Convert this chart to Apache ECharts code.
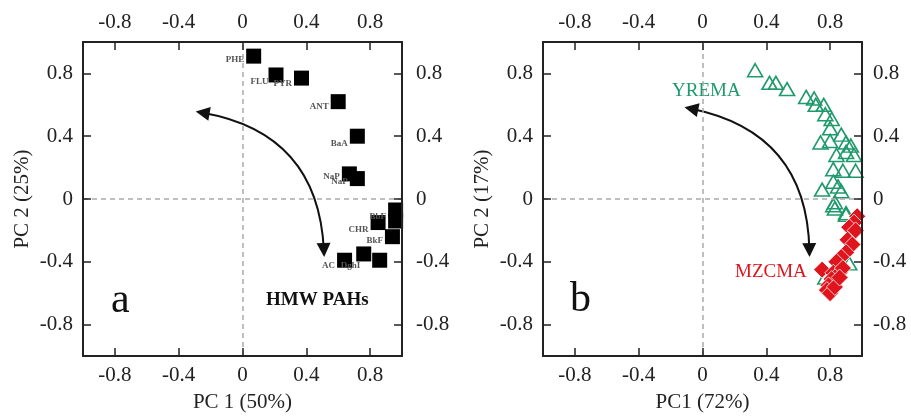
<!DOCTYPE html>
<html><head><meta charset="utf-8">
<script src="https://cdn.jsdelivr.net/npm/echarts@6/dist/echarts.min.js"></script>
<style>html,body{margin:0;padding:0;background:#fff}#c{width:911px;height:418px}</style>
</head><body><div id="c"></div>
<script>
// ---- data ----
const tickValues = [-0.8, -0.4, 0, 0.4, 0.8];
const hmwNames = ['PHE','FLU','PYR','ANT','BaA','NaP','NaP','BbF','BaP','CHR','BkF','DghI','IcdP','AC'];
const hmwPC1   = [0.07, 0.21, 0.37, 0.60, 0.72, 0.67, 0.72, 0.96, 0.96, 0.85, 0.94, 0.76, 0.86, 0.64];
const hmwPC2   = [0.91, 0.79, 0.77, 0.62, 0.40, 0.16, 0.13, -0.07, -0.14, -0.15, -0.24, -0.35, -0.39, -0.39];
const yremaPC1 = [0.33,0.42,0.46,0.53,0.65,0.70,0.71,0.76,0.77,0.81,0.80,0.74,0.80,0.87,0.90,0.93,0.84,0.90,0.95,0.82,0.88,0.96,0.82,0.85,0.75,0.87,0.82,0.83,0.90,0.83,0.90,0.77,0.92];
const yremaPC2 = [0.82,0.74,0.74,0.70,0.65,0.64,0.60,0.60,0.54,0.51,0.45,0.36,0.37,0.41,0.36,0.34,0.28,0.30,0.28,0.19,0.18,0.18,0.11,0.08,0.06,0.05,-0.04,-0.06,-0.10,-0.02,-0.09,-0.50,-0.41];
const mzcmaPC1 = [0.97,0.95,0.92,0.96,0.91,0.94,0.90,0.87,0.84,0.75,0.82,0.86,0.81,0.79,0.78,0.80,0.83,0.88,0.86];
const mzcmaPC2 = [-0.11,-0.15,-0.18,-0.20,-0.26,-0.29,-0.34,-0.37,-0.40,-0.45,-0.47,-0.47,-0.51,-0.55,-0.58,-0.60,-0.56,-0.44,-0.50];
const arrowA = [[-0.25, 0.55], [0.51, -0.325]];
const arrowB = [[-0.07, 0.575], [0.67, -0.325]];

// ---- styles ----
const SERIF = "'Liberation Serif','Times New Roman',serif";
const INK = '#222';
const GREEN = '#1f9a6c';
const RED = '#e0141c';
const labelOffsets = {PHE:[0,4],FLU:[2,7],PYR:[0,6],ANT:[0,5],BaA:[0,7],NaP:[0,3],BbF:[0,7],BaP:[0,0],CHR:[0,7],BkF:[0,4],DghI:[6,12],IcdP:[0,0],AC:[0,5]};
const hiddenLabels = {BaP:true, IcdP:true};

const fmt = v => v === 0 ? '0' : v.toFixed(1);
function common(grid, pos, name, margin, gap) {
  return {
    type:'value', gridIndex:grid, position:pos, min:-1, max:1, z:10,
    axisLine:{show:true, onZero:false, lineStyle:{color:INK, width:2}}, splitLine:{show:false},
    axisTick:{show:true, inside:true, length:8, customValues:tickValues, lineStyle:{color:INK, width:1.5}},
    axisLabel:{show:true, customValues:tickValues, formatter:fmt, margin:margin, fontFamily:SERIF, fontSize:21, color:INK},
    name: name || '', nameLocation:'middle', nameGap:gap,
    nameTextStyle:{fontFamily:SERIF, fontSize:21, color:INK}
  };
}

function zeroLines(xi, yi) {
  return {
    type:'scatter', xAxisIndex:xi, yAxisIndex:yi, data:[], z:1, silent:true,
    markLine:{silent:true, symbol:'none', label:{show:false}, animation:false,
      lineStyle:{type:[5,4], color:'#aaa', width:1.5},
      data:[{xAxis:0},{yAxis:0}]}
  };
}
function arrow(xi, yi, coords) {
  return {
    type:'lines', coordinateSystem:'cartesian2d', xAxisIndex:xi, yAxisIndex:yi, z:3, silent:true,
    symbol:['triangle','triangle'], symbolSize:14,
    lineStyle:{color:'#111', width:2, curveness:0.4, opacity:1},
    data:[{coords:coords}]
  };
}

const hmwData = hmwNames.map((n,i) => ({
  value:[hmwPC1[i], hmwPC2[i]], name:n,
  label:{show:!hiddenLabels[n], offset:labelOffsets[n] || [0,0]}
}));

const option = {
  animation:false,
  backgroundColor:'#fff',
  grid:[{left:83, top:42, width:319, height:318}, {left:543, top:42, width:319, height:318}],
  xAxis:[common(0,'bottom','PC 1 (50%)',9,36), common(0,'top','',9,36), common(1,'bottom','PC1 (72%)',9,36), common(1,'top','',9,36)],
  yAxis:[common(0,'left','PC 2 (25%)',10,50), common(0,'right','',14,50), common(1,'left','PC 2 (17%)',10,50), common(1,'right','',11,50)],
  series:[
    zeroLines(0,0),
    zeroLines(2,2),
    {
      type:'scatter', xAxisIndex:0, yAxisIndex:0, z:4,
      symbol:'rect', symbolSize:15,
      itemStyle:{color:'#000', opacity:1},
      label:{show:true, position:'left', distance:2, formatter:p => p.data.name,
        fontFamily:SERIF, fontSize:9, fontWeight:'bold', color:'#555'},
      data:hmwData
    },
    {
      type:'scatter', xAxisIndex:2, yAxisIndex:2, z:4,
      symbol:'triangle', symbolSize:[15,13],
      itemStyle:{color:'rgba(0,0,0,0)', borderColor:GREEN, borderWidth:1.6, opacity:1},
      data:yremaPC1.map((x,i) => [x, yremaPC2[i]])
    },
    {
      type:'scatter', xAxisIndex:2, yAxisIndex:2, z:5,
      symbol:'diamond', symbolSize:17,
      itemStyle:{color:RED, borderColor:'#fff', borderWidth:0.8, opacity:1},
      data:mzcmaPC1.map((x,i) => [x, mzcmaPC2[i]])
    },
    arrow(0,0,arrowA),
    arrow(2,2,arrowB)
  ],
  graphic:[
    {type:'text', left:111, top:280, style:{text:'a', font:"42px 'Liberation Serif'", fill:'#111'}},
    {type:'text', left:570, top:279, style:{text:'b', font:"42px 'Liberation Serif'", fill:'#111'}},
    {type:'text', left:266, top:291, style:{text:'HMW PAHs', font:"bold 19px 'Liberation Serif'", fill:'#111'}},
    {type:'text', left:672, top:82, style:{text:'YREMA', font:"19px 'Liberation Serif'", fill:GREEN}},
    {type:'text', left:735, top:263, style:{text:'MZCMA', font:"19px 'Liberation Serif'", fill:RED}}
  ]
};
echarts.init(document.getElementById('c')).setOption(option);
</script>
</body></html>
